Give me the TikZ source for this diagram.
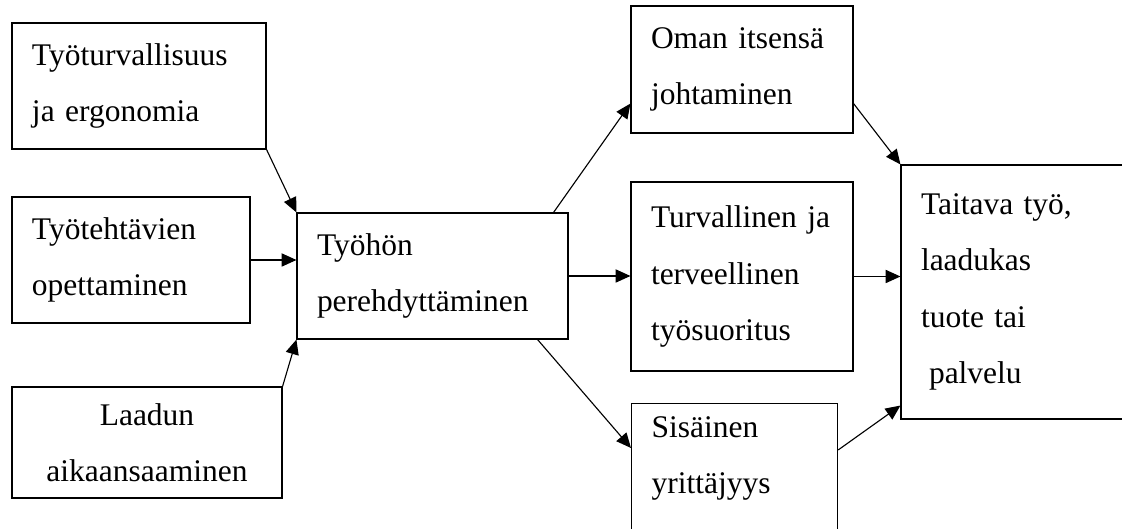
\documentclass[tikz,border=0pt]{standalone}
\usepackage{fontspec}
\setmainfont{Liberation Serif}
\usetikzlibrary{arrows.meta}

\begin{document}
\begin{tikzpicture}[
    infoBox/.style={draw=borderColour, line width=0.8pt, inner xsep=0.5cm, inner ysep=0pt,
        align=left, font=\fontsize{22.4}{40}\selectfont},
    flowArrow/.style={draw=borderColour, line width=0.8pt, -{Triangle[length=0.37cm,width=0.33cm]}}
]
    \definecolor{borderColour}{HTML}{000000}

    % Page size
    \useasboundingbox (0,0) rectangle (28.05,13.225);
    \clip (0,0) rectangle (28.05,13.225);

    % Input boxes
    \node[infoBox, text width=5.35cm, minimum height=3.15cm] (safety) at (3.475,11.075) {Työturvallisuus\\ja ergonomia};
    \node[infoBox, text width=4.95cm, minimum height=3.15cm] (tasks) at (3.275,6.725) {Työtehtävien\\opettaminen};
    \node[infoBox, align=center, text width=5.75cm, minimum height=2.775cm] (quality) at (3.675,2.1625) {Laadun\\aikaansaaminen};

    % Middle box
    \node[infoBox, text width=5.775cm, minimum height=3.15cm] (induction) at (10.8125,6.325) {Työhön\\perehdyttäminen};

    % Output boxes
    \node[infoBox, text width=4.55cm, minimum height=3.175cm] (selfLead) at (18.55,11.4875) {Oman itsensä\\johtaminen};
    \node[infoBox, text width=4.55cm, minimum height=4.725cm] (safeWork) at (18.55,6.3125) {Turvallinen ja\\terveellinen\\työsuoritus};
    \node[infoBox, inner ysep=0.325cm, anchor=north west] (intraEnt) at (15.775,3.15) {\parbox[t][2.9cm][t]{4.15cm}{Sisäinen\\yrittäjyys}};

    % Result box
    \node[infoBox, text width=4.85cm, minimum height=6.35cm] (result) at (25.45,5.925) {Taitava työ,\\laadukas\\tuote tai\\\hspace*{0.2cm}palvelu};

    % Arrows into the middle box
    \draw[flowArrow] (safety.south east) -- (induction.north west);
    \draw[flowArrow] (tasks.east) -- (tasks.east -| induction.west);
    \draw[flowArrow] (quality.north east) -- (induction.south west);

    % Arrows out of the middle box
    \draw[flowArrow] ([xshift=-0.375cm]induction.north east) -- ([yshift=0.75cm]selfLead.south west);
    \draw[flowArrow] (induction.east) -- (induction.east -| safeWork.west);
    \draw[flowArrow] ([xshift=-0.775cm]induction.south east) -- ([yshift=-1.125cm]intraEnt.north west);

    % Arrows into the result box
    \draw[flowArrow] ([yshift=0.75cm]selfLead.south east) -- (result.north west);
    \draw[flowArrow] (safeWork.east) -- (safeWork.east -| result.west);
    \draw[flowArrow] ([yshift=-1.175cm]intraEnt.north east) -- ([yshift=0.35cm]result.south west);

\end{tikzpicture}
\end{document}
